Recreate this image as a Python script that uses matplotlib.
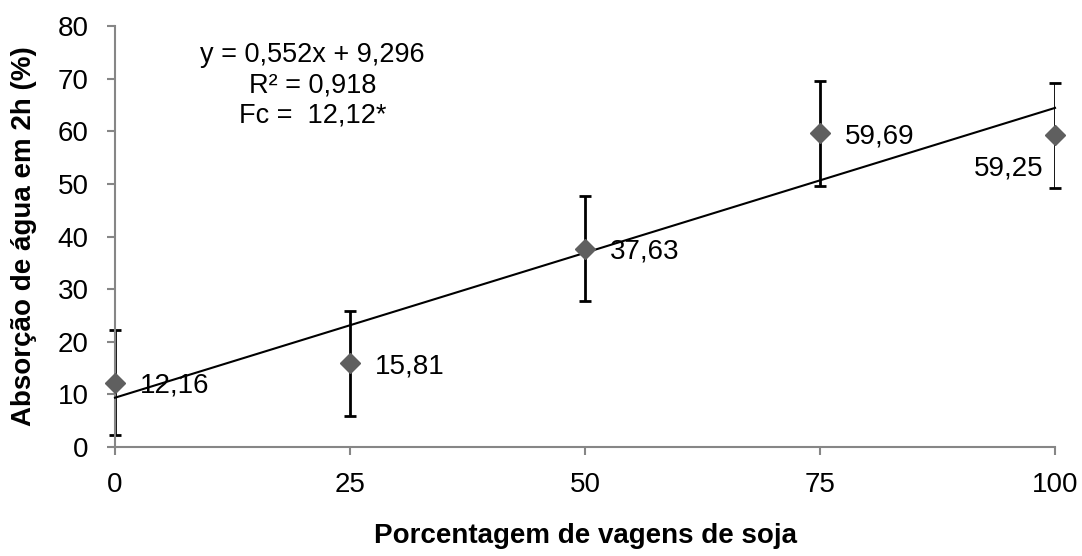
import matplotlib
matplotlib.use("Agg")
import matplotlib.pyplot as plt
import numpy as np

plt.rcParams['font.family'] = ['Liberation Sans', 'DejaVu Sans']

x_vals = [0, 25, 50, 75, 100]
y_vals = [12.16, 15.81, 37.63, 59.69, 59.25]
y_err = [10, 10, 10, 10, 10]
labels = ["12,16", "15,81", "37,63", "59,69", "59,25"]
slope, intercept = 0.552, 9.296
x_ticks = [0, 25, 50, 75, 100]
y_ticks = [0, 10, 20, 30, 40, 50, 60, 70, 80]
eq_lines = ["y = 0,552x + 9,296", "R² = 0,918", "Fc =  12,12*"]

fig = plt.figure(figsize=(10.82, 5.56), dpi=100)
ax = fig.add_axes([0.10628, 0.19694, 0.8688, 0.7554])

ax.errorbar(x_vals, y_vals, yerr=y_err, fmt='none', ecolor='black',
            elinewidth=2, capsize=4.2, capthick=2, zorder=2)
xl = np.array([x_vals[0], x_vals[-1]])
ax.plot(xl, slope * xl + intercept, color='black', lw=1.5, zorder=3)
ax.plot(x_vals, y_vals, linestyle='none', marker='D', markersize=10.5,
        color='#5f5f5f', zorder=4)

for i, (xv, yv, lb) in enumerate(zip(x_vals, y_vals, labels)):
    if i == len(x_vals) - 1:
        ax.annotate(lb, (xv, yv), xytext=(-8, -22), textcoords='offset points',
                    ha='right', va='center_baseline', fontsize=20)
    else:
        ax.annotate(lb, (xv, yv), xytext=(18, 0), textcoords='offset points',
                    ha='left', va='center_baseline', fontsize=20)

eq_y = [73.3, 67.5, 61.8]
for ln_txt, yy in zip(eq_lines, eq_y):
    ax.text(21.0, yy, ln_txt, ha='center', va='baseline', fontsize=19.5)

ax.set_xlim(0, 100)
ax.set_ylim(0, 80)
ax.set_xticks(x_ticks)
ax.set_yticks(y_ticks)
ax.tick_params(axis='both', labelsize=20, color='#868686', width=1.5, length=6)
ax.tick_params(axis='x', pad=12.5)
ax.tick_params(axis='y', pad=13)
for s in ['top', 'right']:
    ax.spines[s].set_visible(False)
for s in ['left', 'bottom']:
    ax.spines[s].set_color('#868686')
    ax.spines[s].set_linewidth(1.5)

ax.set_xlabel("Porcentagem de vagens de soja", fontsize=20, fontweight='bold', va='center')
ax.set_ylabel("Absorção de água em 2h (%)", fontsize=20, fontweight='bold', va='center')
ax.xaxis.set_label_coords(0.5, (446.5 - 536) / 420)
ax.yaxis.set_label_coords((24 - 115) / 940, 0.5)

for ln in ax.lines:
    ln.set_clip_on(False)

fig.savefig("out.png", dpi=100)
